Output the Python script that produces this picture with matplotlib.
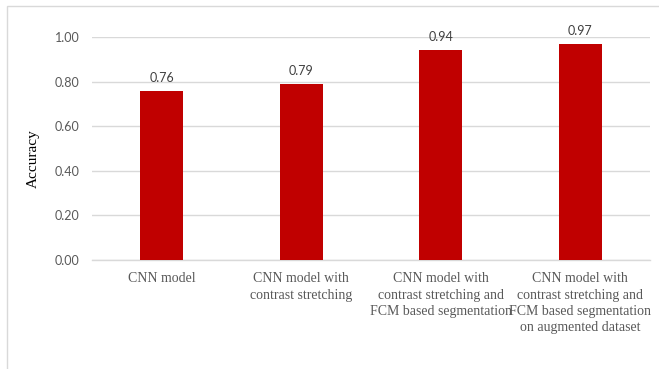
import matplotlib
matplotlib.use("Agg")
import matplotlib.pyplot as plt
from matplotlib.patches import Rectangle

categories = [
    "CNN model",
    "CNN model with\ncontrast stretching",
    "CNN model with\ncontrast stretching and\nFCM based segmentation",
    "CNN model with\ncontrast stretching and\nFCM based segmentation\non augmented dataset",
]
accuracy = [0.76, 0.79, 0.94, 0.97]
y_ticks = [0.0, 0.2, 0.4, 0.6, 0.8, 1.0]

W, H = 659, 369
fig = plt.figure(figsize=(W / 100, H / 100), dpi=100)

# outer chart frame
fig.patches.append(Rectangle((7 / W, -0.05), 1.1, 1 - 6 / H + 0.05,
                             transform=fig.transFigure, fill=False,
                             edgecolor="#d9d9d9", linewidth=1.0))

ax = fig.add_axes([92 / W, 1 - 260 / H, (650 - 92) / W, (260 - 37) / H])
x = range(len(categories))
ax.bar(x, accuracy, width=0.31, color="#c00000", zorder=3)
ax.set_xlim(-0.5, len(categories) - 0.5)
ax.set_ylim(0, 1.0)

ax.set_yticks(y_ticks)
ax.set_yticklabels([f"{v:.2f}" for v in y_ticks], family="Lato",
                   fontsize=9, color="#595959")
ax.yaxis.grid(True, color="#d9d9d9", linewidth=1.0, zorder=0)
ax.tick_params(axis="both", length=0)
ax.tick_params(axis="y", pad=9)

ax.set_xticks(list(x))
ax.set_xticklabels(categories, family="Liberation Serif", fontsize=10,
                   color="#595959", linespacing=1.3)
ax.tick_params(axis="x", pad=9)

for s in ["top", "right", "left"]:
    ax.spines[s].set_visible(False)
ax.spines["bottom"].set_color("#d9d9d9")
ax.spines["bottom"].set_linewidth(1.0)

for i, v in enumerate(accuracy):
    ax.annotate(f"{v:.2f}", (i, v), xytext=(0, 5), textcoords="offset points",
                ha="center", va="bottom", family="Lato", fontsize=9,
                color="#404040", annotation_clip=False)

fig.text(33 / W, 1 - 159 / H, "Accuracy", rotation=90, ha="center",
         va="center", family="Liberation Serif", fontsize=11, color="black")

fig.savefig("out.png", dpi=100)
